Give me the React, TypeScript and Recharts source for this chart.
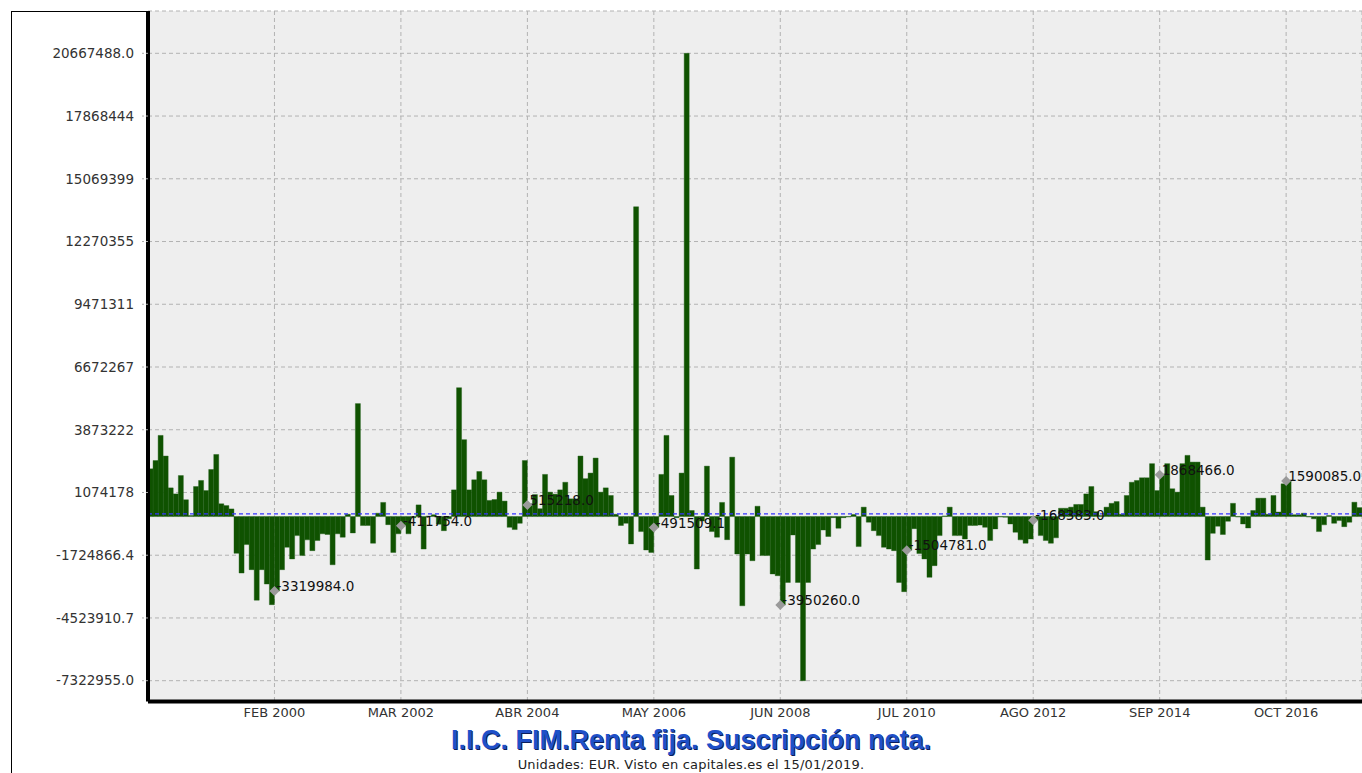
import React from 'react';
import { ComposedChart, Bar, Scatter, XAxis, YAxis, CartesianGrid, ReferenceLine } from 'recharts';

// Monthly net subscriptions (EUR), January 1998 onwards
const netSubscriptions: number[] = [
  2130000, 2500000, 3620000, 2700000, 1280000, 1010000, 1830000, 750000, 50000, 1340000,
  1610000, 1160000, 2100000, 2770000, 570000, 490000, 340000, -1640000, -2520000, -1250000,
  -2370000, -3730000, -2370000, -3010000, -3930000, -3319984, -2370000, -1370000, -1890000, -850000,
  -1740000, -1040000, -1520000, -1070000, -770000, -800000, -2150000, -770000, -920000, 100000,
  -730000, 5040000, -400000, -400000, -1190000, 150000, 630000, -360000, -1600000, -770000,
  -411754, -770000, -50000, 520000, -1450000, 20000, 80000, -340000, -630000, -100000,
  1190000, 5750000, 3430000, 1190000, 1640000, 2010000, 1640000, 720000, 760000, 1090000,
  690000, -480000, -580000, -300000, 2500000, 515218, 980000, 350000, 1880000, 1090000,
  1000000, 1190000, 1530000, 790000, 790000, 2700000, 1690000, 1940000, 2610000, 1090000,
  1280000, 940000, 100000, -400000, -300000, -1220000, 13820000, -670000, -1490000, -1600000,
  -491509.1, 1880000, 3620000, 940000, -50000, 1940000, 20667488, 270000, -2340000, -200000,
  2250000, -670000, -920000, 630000, -1030000, 2650000, -1670000, -3980000, -1670000, -1970000,
  460000, -1740000, -1740000, -2560000, -2640000, -3950260, -2940000, -820000, -2940000, -7322955,
  -2940000, -1450000, -1250000, -600000, -890000, -50000, -520000, -50000, -20000, 90000,
  -1340000, 420000, -250000, -630000, -850000, -1370000, -1450000, -1520000, -2940000, -3350000,
  -1504781, -540000, -1650000, -1890000, -2710000, -2190000, -850000, 30000, 420000, -850000,
  -850000, -1000000, -400000, -400000, -380000, -480000, -1070000, -550000, -20000, -30000,
  -330000, -700000, -1040000, -1190000, -1000000, -168383, -850000, -1070000, -1190000, -950000,
  370000, 370000, 420000, 540000, 540000, 1010000, 1340000, 220000, 50000, 420000,
  590000, 670000, 100000, 940000, 1530000, 1610000, 1730000, 1730000, 2360000, 1160000,
  1868466, 2360000, 1240000, 1090000, 2360000, 2730000, 2430000, 2430000, 420000, -1940000,
  -750000, -430000, -800000, -210000, 590000, -20000, -330000, -510000, 270000, 820000,
  820000, 100000, 940000, 200000, 1460000, 1590085, 80000, 80000, 150000, -20000,
  -100000, -670000, -370000, 50000, -300000, -180000, -450000, -250000, 640000, 400000,
];

// X ticks: month index counted from January 1998
const xTickMonths: number[] = [25, 50, 75, 100, 125, 150, 175, 200, 225];
const xTickLabels: string[] = [
  'FEB 2000', 'MAR 2002', 'ABR 2004', 'MAY 2006', 'JUN 2008',
  'JUL 2010', 'AGO 2012', 'SEP 2014', 'OCT 2016',
];

const yTicks: number[] = [
  20667488, 17868444, 15069399, 12270355, 9471311, 6672267, 3873222, 1074178,
  -1724866.4, -4523910.7, -7322955.0,
];
const yTickLabels: string[] = [
  '20667488.0', '17868444', '15069399', '12270355', '9471311', '6672267', '3873222', '1074178',
  '-1724866.4', '-4523910.7', '-7322955.0',
];
const yDomain: [number, number] = [-8251000, 22555000];
const referenceValue = 120000;

const titleText = 'I.I.C. FIM.Renta fija. Suscripción neta.';
const subtitleText = 'Unidades: EUR. Visto en capitales.es el 15/01/2019.';

const months = netSubscriptions.length;
const data = netSubscriptions.map((v, i) => ({ x: i + 0.5, v }));
const markers = xTickMonths.map((m) => ({ x: m, v: netSubscriptions[m] }));

const W = 1362;
const H = 773;
const PLOT_LEFT = 148;
const FONT = 'DejaVu Sans';

const LabelShape = (p: any) => (
  <text x={p.cx + 2} y={p.cy} fontSize={13.5} fill="#111" fontFamily={FONT}>
    {Number(p.payload.v).toFixed(1)}
  </text>
);

const DiamondShape = (p: any) => (
  <polygon
    points={`${p.cx},${p.cy - 5} ${p.cx + 5},${p.cy} ${p.cx},${p.cy + 5} ${p.cx - 5},${p.cy}`}
    fill="#9a9a9a"
  />
);

export default function App() {
  return (
    <div style={{ position: 'relative', width: W, height: H, background: '#fff', overflow: 'hidden' }}>
      <style>{`body{margin:0;}`}</style>
      <div style={{ position: 'absolute', left: 11, top: 11, width: 1, height: H - 11, background: '#000' }} />
      <div style={{ position: 'absolute', left: 11, top: 11, width: PLOT_LEFT - 11, height: 1, background: '#000' }} />
      <div style={{ position: 'absolute', left: 0, top: 0 }}>
        <ComposedChart
          width={W}
          height={H}
          data={data}
          margin={{ top: 11, right: 0, bottom: 41.5, left: 11 }}
          barCategoryGap={0}
          barGap={0}
        >
          <CartesianGrid fill="#eeeeee" stroke="none" />
          <CartesianGrid stroke="#b2b2b2" strokeDasharray="4 3" />
          <XAxis
            type="number"
            dataKey="x"
            domain={[0, months]}
            ticks={xTickMonths}
            interval={0}
            allowDataOverflow
            tickFormatter={(m: number) => xTickLabels[xTickMonths.indexOf(m)] ?? ''}
            height={30}
            axisLine={{ stroke: '#000', strokeWidth: 4 }}
            tickLine={false}
            tickSize={0}
            tickMargin={6}
            tick={{ fill: '#333', fontSize: 13, fontFamily: FONT }}
          />
          <XAxis xAxisId="cat" type="category" dataKey="x" hide />
          <YAxis
            type="number"
            domain={yDomain}
            ticks={yTicks}
            interval={0}
            allowDataOverflow
            width={PLOT_LEFT - 11}
            tickFormatter={(v: number) => yTickLabels[yTicks.indexOf(v)] ?? ''}
            axisLine={{ stroke: '#000', strokeWidth: 4 }}
            tickLine={{ stroke: '#aaa', strokeDasharray: '2 2' }}
            tickSize={6}
            tickMargin={8}
            tick={{ fill: '#333', fontSize: 13.5, fontFamily: FONT }}
          />
          <Bar
            xAxisId="cat"
            dataKey="v"
            fill="#0f5200"
            stroke="#1d5a12"
            strokeWidth={0.4}
            isAnimationActive={false}
          />
          <ReferenceLine y={referenceValue} stroke="#3434ff" strokeDasharray="4 3" strokeWidth={1.2} />
          <Scatter data={markers} dataKey="v" isAnimationActive={false} shape={LabelShape} />
          <Scatter data={markers} dataKey="v" isAnimationActive={false} shape={DiamondShape} />
        </ComposedChart>
      </div>
      <div
        style={{
          position: 'absolute', left: 0, width: W, paddingLeft: 20, boxSizing: 'border-box',
          top: 726.5, textAlign: 'center', fontFamily: 'Liberation Sans', fontWeight: 'bold',
          fontSize: 27, lineHeight: '27px', color: '#1f50c8', textShadow: '1px 1px 0 #0b1e5a',
          whiteSpace: 'nowrap',
        }}
      >
        {titleText}
      </div>
      <div
        style={{
          position: 'absolute', left: 0, width: W, paddingLeft: 20, boxSizing: 'border-box',
          top: 758, textAlign: 'center', fontFamily: FONT, fontSize: 13, lineHeight: '13px',
          color: '#222', letterSpacing: 0.2, whiteSpace: 'nowrap',
        }}
      >
        {subtitleText}
      </div>
    </div>
  );
}
